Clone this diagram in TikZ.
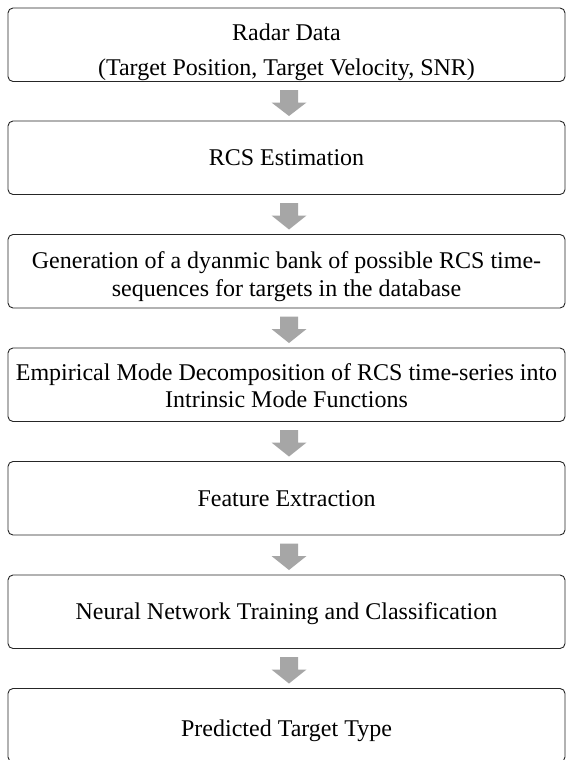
\documentclass[tikz,border=0pt]{standalone}
\usepackage{fontspec}
\setmainfont{Liberation Serif}
\usetikzlibrary{calc}
\begin{document}
\begin{tikzpicture}[x=1pt,y=-1pt,
  stepbox/.style={draw=black!85,line width=0.9pt,rounded corners=5pt,fill=none,
    minimum width=557pt,minimum height=73.5pt,inner sep=0pt,outer sep=0pt},
  txt/.style={anchor=base,inner sep=0pt,outer sep=0pt,font=\fontsize{24}{28}\selectfont},
  arrowfill/.style={fill=black!35}]
\clip (0,0) rectangle (566,760);
\fill[white] (0,0) rectangle (566,760);
% boxes
\node[stepbox] (b1) at (286.5,44.75) {};
\node[stepbox] (b2) at (286.5,157.75) {};
\node[stepbox] (b3) at (286.5,271.25) {};
\node[stepbox] (b4) at (286.5,384.75) {};
\node[stepbox] (b5) at (286.5,498.25) {};
\node[stepbox] (b6) at (286.5,611.75) {};
\node[stepbox] (b7) at (286.5,725.25) {};
% texts
\node[txt] (t1a) at (286.5,40.8) {Radar Data};
\node[txt] (t1b) at (286.5,75.8) {(Target Position, Target Velocity, SNR)};
\node[txt] (t2) at (286.5,165.75) {RCS Estimation};
\node[txt] (t3a) at (286.5,268.5) {Generation of a dyanmic bank of possible RCS time-};
\node[txt] (t3b) at (286.5,296) {sequences for targets in the database};
\node[txt] (t4a) at (286.5,380) {Empirical Mode Decomposition of RCS time-series into};
\node[txt] (t4b) at (286.5,407.5) {Intrinsic Mode Functions};
\node[txt] (t5) at (286.5,506.25) {Feature Extraction};
\node[txt] (t6) at (286.5,619.75) {Neural Network Training and Classification};
\node[txt] (t7) at (286.5,736) {Predicted Target Type};
% block arrows
\newcommand{\blockarrow}[2]{%
  \fill[arrowfill] ($(#1.south)+(-6.5,8.7)$) -- ($(#1.south)+(11.5,8.7)$)
    -- ($(#1.south)+(11.5,21)$) -- ($(#1.south)+(20,21)$)
    -- ($(#2.north)+(2.5,-5)$)
    -- ($(#1.south)+(-15,21)$) -- ($(#1.south)+(-6.5,21)$) -- cycle;}
\blockarrow{b1}{b2}
\blockarrow{b2}{b3}
\blockarrow{b3}{b4}
\blockarrow{b4}{b5}
\blockarrow{b5}{b6}
\blockarrow{b6}{b7}
\end{tikzpicture}
\end{document}
